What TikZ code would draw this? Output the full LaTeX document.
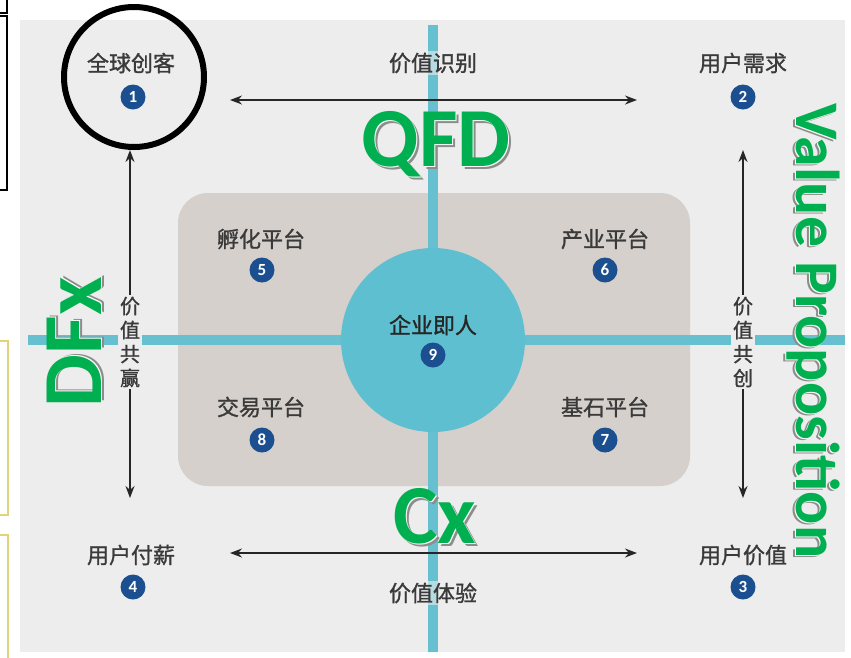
\documentclass[tikz,border=0pt]{standalone}
\usepackage{fontspec}
\newfontfamily\cjk{Noto Sans CJK SC}[FakeBold=1.2]
\newfontfamily\wa{Carlito}
\usetikzlibrary{arrows.meta}
\definecolor{panel}{HTML}{EDEDED}
\definecolor{inner}{HTML}{D5D0CB}
\definecolor{hub}{HTML}{5DBFCF}
\definecolor{barblue}{HTML}{66C0CF}
\definecolor{badgeblue}{HTML}{1B4F8F}
\definecolor{labelgray}{HTML}{3A3A3A}
\definecolor{wagreen}{HTML}{00B050}
\definecolor{shadowgray}{HTML}{8C8C8C}
\definecolor{edgeyellow}{HTML}{E2D27A}
\tikzset{
  lbl/.style={font=\cjk\fontsize{22}{22}\selectfont, text=labelgray, inner sep=1pt},
  vlbl/.style={font=\cjk\fontsize{20}{24}\selectfont, text=labelgray, align=center, fill=panel, inner sep=2pt},
  hlbl/.style={font=\cjk\fontsize{22}{22}\selectfont, text=labelgray, fill=panel, fill opacity=0.6, text opacity=1, inner sep=2pt},
  badge/.style={circle, fill=badgeblue, text=white, minimum size=25pt, inner sep=0pt, font=\wa\bfseries\fontsize{17}{17}\selectfont},
  arr/.style={{Stealth[length=12pt,width=9pt]}-{Stealth[length=12pt,width=9pt]}, line width=1.4pt, black!85},
  bar/.style={line width=10pt, barblue},
  big/.style={font=\wa\bfseries\fontsize{#1}{#1}\selectfont, text=wagreen, inner sep=0pt, anchor=base},
  bigshadow/.style={big=#1, text=shadowgray},
  bigwhite/.style={big=#1, text=white},
}
\begin{document}
\begin{tikzpicture}[x=1pt,y=-1pt]
\useasboundingbox (0,0) rectangle (851,657);
% left edge fragments
\draw[line width=2pt, black] (-10,-10) rectangle (7,13);
\draw[line width=2pt, black] (-10,16) rectangle (7,190);
\draw[line width=2pt, edgeyellow] (-10,341) rectangle (8,515);
\draw[line width=2pt, edgeyellow] (-10,535) rectangle (8,670);
% panel
\fill[panel] (20,20) rectangle (845,652);
% inner platform
\fill[inner, rounded corners=30pt] (178,193) rectangle (690,486);
% cross bars
\coordinate (vt) at (433,25); \coordinate (vb) at (433,652);
\coordinate (hl) at (28,340); \coordinate (hr) at (845,340);
\draw[bar] (vt) -- (vb);
\draw[bar] (hl) -- (hr);
% hub
\node[circle, fill=hub, minimum size=184pt, inner sep=0pt] (hub) at (433,340) {};
\node[lbl, text=black!85] (t9) at (433,325) {企业即人};
\node[badge] (b9) at (433,355) {9};
% platforms
\node[lbl] (t5) at (261,239) {孵化平台};
\node[badge] (b5) at (262,270) {5};
\node[lbl] (t6) at (605,239) {产业平台};
\node[badge] (b6) at (605,270) {6};
\node[lbl] (t8) at (261,407) {交易平台};
\node[badge] (b8) at (262,440) {8};
\node[lbl] (t7) at (605,407) {基石平台};
\node[badge] (b7) at (605,440) {7};
% corners
\node[lbl] (t1) at (131,63) {全球创客};
\node[badge] (b1) at (133,97) {1};
\node[lbl] (t2) at (743,63) {用户需求};
\node[badge] (b2) at (743,97) {2};
\node[lbl] (t4) at (131,555) {用户付薪};
\node[badge] (b4) at (133,587) {4};
\node[lbl] (t3) at (743,555) {用户价值};
\node[badge] (b3) at (743,587) {3};
% arrows
\coordinate (a1l) at (230,100); \coordinate (a1r) at (637,100);
\coordinate (a2l) at (230,553); \coordinate (a2r) at (637,553);
\coordinate (a3t) at (130,150); \coordinate (a3b) at (130,498);
\coordinate (a4t) at (743,150); \coordinate (a4b) at (743,498);
\draw[arr] (a1l) -- (a1r);
\draw[arr] (a2l) -- (a2r);
\draw[arr] (a3t) -- (a3b);
\draw[arr] (a4t) -- (a4b);
% axis labels
\node[hlbl] (l1) at (433,63) {价值识别};
\node[hlbl] (l2) at (433,593) {价值体验};
\node[vlbl] (l3) at (130,342) {价\\值\\共\\赢};
\node[vlbl] (l4) at (743,342) {价\\值\\共\\创};
% highlight circle
\draw[line width=6pt, black] (134,77) circle[radius=70pt];
% green word-art labels
\node[bigshadow=84] at (439,169) {QFD};
\node[bigwhite=84] at (437,167) {QFD};
\node[big=84] (qfd) at (436,166) {QFD};
\node[bigshadow=84] at (438,546) {Cx};
\node[bigwhite=84] at (436,544) {Cx};
\node[big=84] (cx) at (435,543) {Cx};
\node[bigshadow=84, rotate=90] at (104,340) {DFx};
\node[bigwhite=84, rotate=90] at (102,341) {DFx};
\node[big=84, rotate=90] (dfx) at (101,342) {DFx};
\node[bigshadow=62, rotate=-90] at (793,333) {Value Proposition};
\node[bigwhite=62, rotate=-90] at (795,332) {Value Proposition};
\node[big=62, rotate=-90] (vp) at (796,331) {Value Proposition};
\end{tikzpicture}
\end{document}
